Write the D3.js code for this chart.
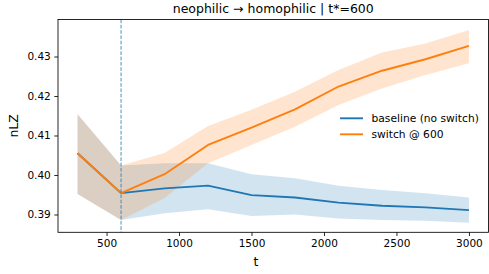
<!DOCTYPE html>
<html>
<head>
<meta charset="utf-8">
<script src="https://cdn.jsdelivr.net/npm/d3@7"></script>
<style>
  body { margin: 0; background: #fff; }
  text { font-family: "DejaVu Sans", sans-serif; fill: #000; }
</style>
</head>
<body>
<div id="viz"></div>
<script>
const width = 489;
const height = 274;
const margin = {top: 19.5, right: 0.5, bottom: 41.7, left: 58};

// Data
const tValues = [300, 600, 900, 1200, 1500, 1800, 2100, 2400, 2700, 3000];
const baselineMean = [0.4055, 0.3954, 0.3966, 0.3973, 0.3949, 0.3943, 0.3930, 0.3922, 0.3918, 0.3911];
const baselineLo   = [0.3952, 0.3886, 0.3903, 0.3913, 0.3896, 0.3900, 0.3890, 0.3886, 0.3884, 0.3879];
const baselineHi   = [0.4154, 0.4024, 0.4030, 0.4030, 0.4002, 0.3992, 0.3973, 0.3962, 0.3954, 0.3943];
const switchMean   = [0.4055, 0.3954, 0.4002, 0.4076, 0.4120, 0.4166, 0.4224, 0.4264, 0.4293, 0.4327];
const switchLo     = [0.3952, 0.3886, 0.3942, 0.4030, 0.4076, 0.4122, 0.4177, 0.4219, 0.4253, 0.4283];
const switchHi     = [0.4154, 0.4024, 0.4056, 0.4124, 0.4165, 0.4211, 0.4266, 0.4310, 0.4333, 0.4367];
const switchTime = 600;
const xTicks = [500, 1000, 1500, 2000, 2500, 3000];
const yTicks = [0.39, 0.40, 0.41, 0.42, 0.43];
const seriesNames = ['baseline (no switch)', 'switch @ 600'];
const title = 'neophilic \u2192 homophilic | t*=600';

const blue = '#1f77b4';
const orange = '#ff7f0e';

const series = [
  {name: seriesNames[0], color: blue, mean: baselineMean, lo: baselineLo, hi: baselineHi},
  {name: seriesNames[1], color: orange, mean: switchMean, lo: switchLo, hi: switchHi}
];

// Scales (matplotlib style 5% padding on x)
const xScale = d3.scaleLinear()
  .domain([165, 3135])
  .range([margin.left, width - margin.right]);
const yScale = d3.scaleLinear()
  .domain([0.38549, 0.43937])
  .range([height - margin.bottom, margin.top]);

const svg = d3.select('#viz')
  .append('svg')
    .attr('width', width)
    .attr('height', height)
    .attr('viewBox', [0, 0, width, height]);

// Bands
const area = (s) => d3.area()
  .x((d, i) => xScale(tValues[i]))
  .y0((d, i) => yScale(s.lo[i]))
  .y1((d, i) => yScale(s.hi[i]));

svg.append('g')
    .attr('class', 'bands')
  .selectAll('path')
  .data(series)
  .join('path')
    .attr('d', s => area(s)(tValues))
    .attr('fill', s => s.color)
    .attr('fill-opacity', 0.2);

// Lines
const line = (s) => d3.line()
  .x((d, i) => xScale(tValues[i]))
  .y((d, i) => yScale(s.mean[i]));

svg.append('g')
    .attr('class', 'lines')
  .selectAll('path')
  .data(series)
  .join('path')
    .attr('d', s => line(s)(tValues))
    .attr('fill', 'none')
    .attr('stroke', s => s.color)
    .attr('stroke-width', 1.9)
    .attr('stroke-linejoin', 'round');

// Switch marker
svg.append('line')
  .attr('x1', xScale(switchTime))
  .attr('x2', xScale(switchTime))
  .attr('y1', margin.top)
  .attr('y2', height - margin.bottom)
  .attr('stroke', blue)
  .attr('stroke-opacity', 0.8)
  .attr('stroke-width', 1)
  .attr('stroke-dasharray', '3.7,1.6');

// Axes
const xAxis = d3.axisBottom(xScale)
  .tickValues(xTicks)
  .tickFormat(d3.format('d'))
  .tickSize(3.7)
  .tickPadding(3.5)
  .tickSizeOuter(0);
const xAxisGroup = svg.append('g')
  .attr('transform', `translate(0,${height - margin.bottom})`)
  .call(xAxis);

const yAxis = d3.axisLeft(yScale)
  .tickValues(yTicks)
  .tickFormat(d3.format('.2f'))
  .tickSize(3.7)
  .tickPadding(3.5)
  .tickSizeOuter(0);
const yAxisGroup = svg.append('g')
  .attr('transform', `translate(${margin.left},0)`)
  .call(yAxis);

[xAxisGroup, yAxisGroup].forEach(g => {
  g.select('.domain').remove();
  g.selectAll('.tick line').attr('stroke', '#000').attr('stroke-width', 0.85);
  g.selectAll('.tick text')
    .style('font-family', '"DejaVu Sans", sans-serif')
    .style('font-size', '10.5px')
    .attr('fill', '#000');
});

// Frame
svg.append('rect')
  .attr('x', margin.left)
  .attr('y', margin.top)
  .attr('width', width - margin.right - margin.left)
  .attr('height', height - margin.bottom - margin.top)
  .attr('fill', 'none')
  .attr('stroke', '#000')
  .attr('stroke-width', 0.85);

// Title and labels
svg.append('text')
  .attr('x', (margin.left + width - margin.right) / 2)
  .attr('y', 13)
  .attr('text-anchor', 'middle')
  .style('font-size', '12.5px')
  .text(title);

svg.append('text')
  .attr('x', 256)
  .attr('y', 266)
  .attr('text-anchor', 'middle')
  .style('font-size', '12.5px')
  .text('t');

svg.append('text')
  .attr('transform', `translate(18,${(margin.top + height - margin.bottom) / 2}) rotate(-90)`)
  .attr('text-anchor', 'middle')
  .style('font-size', '12.5px')
  .text('nLZ');

// Legend
const legend = svg.append('g')
  .attr('transform', 'translate(340,118.3)');
const rows = legend.selectAll('g')
  .data(series)
  .join('g')
    .attr('transform', (d, i) => `translate(0,${i * 16})`);
rows.append('line')
  .attr('x1', 0)
  .attr('x2', 23)
  .attr('stroke', d => d.color)
  .attr('stroke-width', 1.9);
rows.append('text')
  .attr('x', 31.5)
  .attr('dy', '0.35em')
  .style('font-size', '10.7px')
  .text(d => d.name);
</script>
</body>
</html>
